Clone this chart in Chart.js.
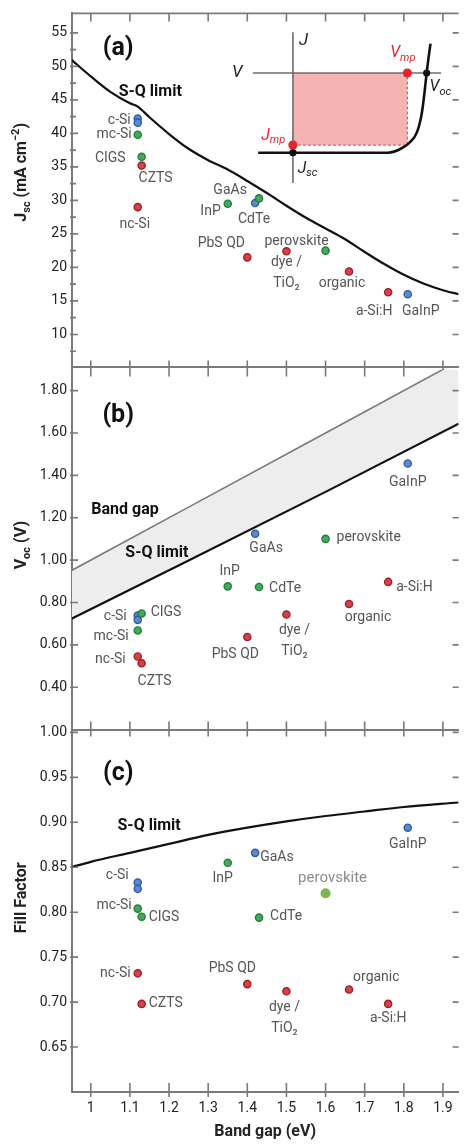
<!DOCTYPE html>
<html>
<head>
<meta charset="utf-8">
<script src="https://cdn.jsdelivr.net/npm/chart.js@4.4.1/dist/chart.umd.min.js"></script>
<style>
body { margin: 0; background: #fff; }
#wrap { position: relative; width: 464px; height: 1145px; overflow: hidden; }
canvas { position: absolute; left: 0; }
</style>
</head>
<body>
<div id="wrap">
<canvas id="panelA" width="464" height="380" style="top:0px"></canvas>
<canvas id="panelB" width="464" height="387" style="top:356px"></canvas>
<canvas id="panelC" width="464" height="426" style="top:719px"></canvas>
<canvas id="inset" width="244" height="180" style="top:20px;left:220px"></canvas>
</div>
<script>
// record cells
const materials = ['c-Si', 'c-Si', 'mc-Si', 'CIGS', 'CZTS', 'nc-Si', 'GaAs', 'InP', 'CdTe', 'PbS QD', 'dye /\nTiO₂', 'perovskite', 'organic', 'a-Si:H', 'GaInP'];
const bandGap = [1.12, 1.12, 1.12, 1.13, 1.13, 1.12, 1.42, 1.35, 1.43, 1.40, 1.50, 1.60, 1.66, 1.76, 1.81];
const group = ['high', 'high', 'mid', 'mid', 'low', 'low', 'high', 'mid', 'mid', 'low', 'low', 'mid', 'low', 'low', 'high'];
const jsc = [42.2, 41.6, 39.8, 36.5, 35.2, 29.0, 29.6, 29.5, 30.3, 21.5, 22.4, 22.5, 19.4, 16.3, 16.0];
const voc = [0.738, 0.718, 0.668, 0.748, 0.513, 0.545, 1.124, 0.876, 0.873, 0.637, 0.743, 1.100, 0.793, 0.897, 1.456];
const fillFactor = [0.833, 0.826, 0.804, 0.795, 0.698, 0.732, 0.866, 0.855, 0.794, 0.720, 0.712, 0.821, 0.714, 0.698, 0.894];

// Shockley-Queisser limits
const sqJscGap = [0.95, 1.0, 1.05, 1.1, 1.12, 1.15, 1.2, 1.25, 1.3, 1.35, 1.4, 1.45, 1.5, 1.55, 1.6, 1.65, 1.7, 1.75, 1.8, 1.85, 1.9, 1.94];
const sqJsc = [51.0, 48.5, 46.2, 44.5, 44.0, 42.4, 39.9, 37.7, 36.0, 34.6, 32.9, 31.1, 29.2, 27.4, 25.8, 24.2, 22.3, 20.5, 18.9, 17.6, 16.6, 16.0];
const sqVocGap = [0.95, 1.25, 1.6, 1.94];
const sqVoc = [0.723, 0.998, 1.322, 1.644];
const gapVoc = [0.95, 1.25, 1.6, 1.94];
const sqFFGap = [0.95, 1.0, 1.1, 1.2, 1.3, 1.4, 1.5, 1.6, 1.7, 1.8, 1.94];
const sqFF = [0.850, 0.856, 0.866, 0.876, 0.886, 0.894, 0.901, 0.907, 0.912, 0.917, 0.922];

// tick labels
const gapTicks = [1, 1.1, 1.2, 1.3, 1.4, 1.5, 1.6, 1.7, 1.8, 1.9];
const jscTicks = [10, 15, 20, 25, 30, 35, 40, 45, 50, 55];
const jscMinor = [7.5, 12.5, 17.5, 22.5, 27.5, 32.5, 37.5, 42.5, 47.5, 52.5];
const vocTicks = [0.4, 0.6, 0.8, 1.0, 1.2, 1.4, 1.6, 1.8];
const ffTicks = [0.65, 0.7, 0.75, 0.8, 0.85, 0.9, 0.95, 1.0];

// inset J-V sketch
const jvV = [-0.26, 0.5, 0.712, 0.796, 0.868, 0.928, 0.964, 0.988, 1.0, 1.019, 1.029];
const jvJ = [-1.0, -1.0, -1.0, -0.96, -0.88, -0.742, -0.504, -0.187, 0, 0.25, 0.369];
const vmp = 0.856, jmp = -0.905;

const FONT = 'Roboto, "DejaVu Sans", sans-serif';
const axisGray = '#7a7a7a';
const dotFill = { high: '#5a8bcb', mid: '#45a85c', low: '#d2434a' };
const dotEdge = { high: '#2d5f9f', mid: '#237f39', low: '#a61d26' };

Chart.defaults.font.family = FONT;
Chart.defaults.color = '#222';

const frameTicks = {
    id: 'frameTicks',
    afterDraw(chart, args, opts) {
        if (!opts.on) return;
        let ctx = chart.ctx, a = chart.chartArea, x = chart.scales.x, y = chart.scales.y;
        ctx.save();
        ctx.strokeStyle = axisGray;
        ctx.lineWidth = 1.6;
        ctx.beginPath();
        if (opts.topLine) { ctx.moveTo(a.left, a.top); ctx.lineTo(a.right, a.top); }
        x.ticks.forEach(t => {
            let px = x.getPixelForValue(t.value);
            if (opts.top) { ctx.moveTo(px, a.top - opts.top[0]); ctx.lineTo(px, a.top + opts.top[1]); }
            ctx.moveTo(px, a.bottom - opts.bottom[0]); ctx.lineTo(px, a.bottom + opts.bottom[1]);
        });
        y.ticks.forEach(t => {
            let py = y.getPixelForValue(t.value);
            let major = t.label !== '';
            ctx.moveTo(a.left - 2, py); ctx.lineTo(a.left + (major ? 6 : 4), py);
            if (major) { ctx.moveTo(a.right, py); ctx.lineTo(a.right - 6, py); }
        });
        ctx.stroke();
        ctx.restore();
    }
};

function drawParts(ctx, parts, x, y, align, size, style, color) {
    let big = style + ' ' + size + 'px ' + FONT;
    let small = style + ' ' + Math.round(size * 0.68) + 'px ' + FONT;
    let w = 0;
    parts.forEach(p => { ctx.font = p.s ? small : big; w += ctx.measureText(p.t).width; });
    let cx = align === 'center' ? x - w / 2 : align === 'right' ? x - w : x;
    ctx.fillStyle = color;
    ctx.textAlign = 'left';
    ctx.textBaseline = 'middle';
    parts.forEach(p => {
        ctx.font = p.s ? small : big;
        let dy = p.s === 'sub' ? size * 0.3 : p.s === 'sup' ? -size * 0.35 : 0;
        ctx.fillText(p.t, cx, y + dy);
        cx += ctx.measureText(p.t).width;
    });
}

const yTitle = {
    id: 'yTitle',
    afterDraw(chart, args, opts) {
        if (!opts.parts) return;
        let ctx = chart.ctx, a = chart.chartArea;
        ctx.save();
        ctx.translate(opts.x, a.top + opts.frac * (a.bottom - a.top));
        ctx.rotate(-Math.PI / 2);
        drawParts(ctx, opts.parts, 0, 0, 'center', 16, 'bold', '#222');
        ctx.restore();
    }
};

const notes = {
    id: 'notes',
    afterDraw(chart, args, opts) {
        if (!opts.items) return;
        let ctx = chart.ctx, x = chart.scales.x, y = chart.scales.y;
        ctx.save();
        opts.items.forEach(n => {
            drawParts(ctx, n.parts || [{ t: n.text }], x.getPixelForValue(n.x), y.getPixelForValue(n.y),
                n.align || 'center', n.size || 16, n.style || 'bold', n.color || '#111');
        });
        ctx.restore();
    }
};

const pointLabels = {
    id: 'pointLabels',
    afterDatasetsDraw(chart, args, opts) {
        if (!opts.pos) return;
        let ctx = chart.ctx;
        let pts = chart.getDatasetMeta(0).data;
        let done = {};
        ctx.save();
        materials.forEach((m, i) => {
            let p = opts.pos[m];
            if (!p || done[m]) return;
            done[m] = true;
            let big = p[3] === 'big';
            ctx.font = (big ? 15 : 14) + 'px ' + FONT;
            ctx.fillStyle = big ? '#8c8c8c' : '#555';
            ctx.textAlign = p[2];
            ctx.textBaseline = 'middle';
            m.split('\n').forEach((line, k) => {
                ctx.fillText(line, pts[i].x + p[0], pts[i].y + p[1] + k * 21);
            });
        });
        ctx.restore();
    }
};

Chart.register(frameTicks, yTitle, notes, pointLabels);

function tickList(major, minor) {
    return scale => {
        scale.ticks = major.concat(minor || []).sort((a, b) => a - b).map(v => ({ value: v }));
    };
}

function xy(xs, ys) {
    return xs.map((v, i) => ({ x: v, y: ys[i] }));
}

function dots(values, bigPerovskite) {
    return {
        data: xy(bandGap, values),
        pointRadius: c => bigPerovskite && materials[c.dataIndex] === 'perovskite' ? 5 : 3.6,
        pointBorderWidth: c => bigPerovskite && materials[c.dataIndex] === 'perovskite' ? 0 : 1.4,
        backgroundColor: c => bigPerovskite && materials[c.dataIndex] === 'perovskite' ? '#7cb84a' : dotFill[group[c.dataIndex]],
        borderColor: c => dotEdge[group[c.dataIndex]]
    };
}

function panelOptions(p) {
    return {
        responsive: false,
        animation: false,
        layout: { padding: { top: p.padTop } },
        plugins: {
            legend: { display: false },
            tooltip: { enabled: false },
            frameTicks: Object.assign({ on: true }, p.frame),
            yTitle: p.yTitle,
            notes: { items: p.notes },
            pointLabels: { pos: p.labels }
        },
        scales: {
            x: {
                type: 'linear', min: 0.952, max: 1.94,
                afterBuildTicks: tickList(gapTicks),
                afterFit: s => { s.height = p.xHeight; },
                grid: { drawOnChartArea: false, drawTicks: false },
                border: { color: axisGray, width: 2 },
                ticks: { display: !!p.xLabels, autoSkip: false, maxRotation: 0, padding: 8, color: '#222', font: { size: 14 }, callback: v => String(+v.toFixed(1)) },
                title: { display: !!p.xLabels, text: 'Band gap (eV)', color: '#222', font: { size: 16, weight: 'bold' }, padding: { top: 2, bottom: 3 } }
            },
            y: {
                type: 'linear', min: p.yMin, max: p.yMax,
                afterBuildTicks: tickList(p.yMajor, p.yMinor),
                afterFit: s => { s.width = 72; },
                grid: { drawOnChartArea: false, drawTicks: false },
                border: { color: axisGray, width: 2 },
                ticks: { autoSkip: false, padding: 5, color: '#222', font: { size: 14 }, callback: v => p.yMajor.includes(v) ? p.fmt(v) : '' }
            }
        }
    };
}

window.onload = function () {
    new Chart(document.getElementById('panelA'), {
        type: 'scatter',
        data: {
            datasets: [
                dots(jsc),
                { type: 'line', data: xy(sqJscGap, sqJsc), borderColor: '#111', borderWidth: 2.2, pointRadius: 0, cubicInterpolationMode: 'monotone' }
            ]
        },
        options: panelOptions({
            padTop: 7, xHeight: 12, yMin: 5.2, yMax: 57.9, yMajor: jscTicks, yMinor: jscMinor, fmt: v => String(v),
            frame: { topLine: true, top: [0, 8], bottom: [6, 10] },
            yTitle: { x: 22, frac: 0.45, parts: [{ t: 'J' }, { t: 'sc', s: 'sub' }, { t: ' (mA cm' }, { t: '−2', s: 'sup' }, { t: ')' }] },
            notes: [
                { text: '(a)', x: 1.07, y: 52.7, size: 25 },
                { text: 'S-Q limit', x: 1.152, y: 46.2 }
            ],
            labels: {
                'c-Si': [-7, 2, 'right'], 'mc-Si': [-6, 0, 'right'], 'CIGS': [-16, 2, 'right'], 'CZTS': [14, 13, 'center'],
                'nc-Si': [-3, 17, 'center'], 'GaAs': [-25, -13, 'center'], 'InP': [-7, 8, 'right'], 'CdTe': [-5, 21, 'center'],
                'PbS QD': [-26, -14, 'center'], 'dye /\nTiO₂': [0, 11, 'center'], 'perovskite': [-29, -9, 'center'],
                'organic': [-7, 12, 'center'], 'a-Si:H': [-14, 19, 'center'], 'GaInP': [13, 17, 'center']
            }
        })
    });

    new Chart(document.getElementById('panelB'), {
        type: 'scatter',
        data: {
            datasets: [
                dots(voc),
                { type: 'line', data: xy(sqVocGap, sqVoc), borderColor: '#111', borderWidth: 2.2, pointRadius: 0 },
                { type: 'line', data: xy(sqVocGap, gapVoc), borderColor: '#7a7a7a', borderWidth: 1.6, pointRadius: 0, fill: '-1', backgroundColor: '#ededed' }
            ]
        },
        options: panelOptions({
            padTop: 12, xHeight: 12, yMin: 0.2, yMax: 1.9, yMajor: vocTicks, fmt: v => v.toFixed(2),
            frame: { bottom: [8, 7] },
            yTitle: { x: 22, frac: 0.488, parts: [{ t: 'V' }, { t: 'oc', s: 'sub' }, { t: ' (V)' }] },
            notes: [
                { text: '(b)', x: 1.07, y: 1.683, size: 25 },
                { text: 'Band gap', x: 1.0875, y: 1.236 },
                { text: 'S-Q limit', x: 1.169, y: 1.034 }
            ],
            labels: {
                'c-Si': [-11, 1, 'right'], 'CIGS': [9, -1, 'left'], 'mc-Si': [-9, 6, 'right'], 'nc-Si': [-12, 3, 'right'],
                'CZTS': [13, 18, 'center'], 'InP': [2, -15, 'center'], 'GaAs': [11, 15, 'center'], 'perovskite': [11, -1, 'left'],
                'CdTe': [10, 1, 'left'], 'a-Si:H': [8, 6, 'left'], 'organic': [19, 14, 'center'], 'dye /\nTiO₂': [8, 16, 'center'],
                'PbS QD': [-12, 17, 'center'], 'GaInP': [0, 19, 'center']
            }
        })
    });

    new Chart(document.getElementById('panelC'), {
        type: 'scatter',
        data: {
            datasets: [
                dots(fillFactor, true),
                { type: 'line', data: xy(sqFFGap, sqFF), borderColor: '#111', borderWidth: 2.2, pointRadius: 0, cubicInterpolationMode: 'monotone' }
            ]
        },
        options: panelOptions({
            padTop: 12, xHeight: 53, xLabels: true, yMin: 0.6, yMax: 1.0, yMajor: ffTicks, fmt: v => v.toFixed(2),
            frame: { bottom: [9, 5] },
            yTitle: { x: 22, frac: 0.46, parts: [{ t: 'Fill Factor' }] },
            notes: [
                { text: '(c)', x: 1.07, y: 0.9535, size: 25 },
                { text: 'S-Q limit', x: 1.149, y: 0.896 }
            ],
            labels: {
                'c-Si': [-9, -7, 'right'], 'mc-Si': [-6, -3, 'right'], 'CIGS': [7, 1, 'left'], 'InP': [-5, 16, 'center'],
                'GaAs': [5, 5, 'left'], 'perovskite': [7, -15, 'center', 'big'], 'CdTe': [11, -1, 'left'], 'GaInP': [0, 17, 'center'],
                'nc-Si': [-7, 0, 'right'], 'CZTS': [7, 0, 'left'], 'PbS QD': [-15, -16, 'center'], 'dye /\nTiO₂': [-2, 16, 'center'],
                'organic': [4, -12, 'left'], 'a-Si:H': [0, 15, 'center']
            }
        })
    });

    // inset: J-V curve sketch with the maximum power rectangle
    new Chart(document.getElementById('inset'), {
        type: 'scatter',
        data: {
            datasets: [
                { data: [{ x: 0, y: jmp }, { x: vmp, y: 0 }], backgroundColor: '#e3262c', pointRadius: 4.6, pointBorderWidth: 0 },
                { data: [{ x: 0, y: -1 }, { x: 1, y: 0 }], backgroundColor: '#111', pointRadius: 3.6, pointBorderWidth: 0 },
                { type: 'line', data: xy(jvV, jvJ), borderColor: '#111', borderWidth: 2.6, pointRadius: 0, cubicInterpolationMode: 'monotone' },
                { type: 'line', data: [{ x: -0.30, y: 0 }, { x: 1.108, y: 0 }], borderColor: '#6d6d6d', borderWidth: 1.6, pointRadius: 0 },
                { type: 'line', data: [{ x: 0, y: 0.512 }, { x: 0, y: -1.38 }], borderColor: '#6d6d6d', borderWidth: 1.6, pointRadius: 0 },
                { type: 'line', data: [{ x: 0, y: jmp }, { x: vmp, y: jmp }, { x: vmp, y: 0 }], borderColor: '#e0605e', borderWidth: 1.2,
                  borderDash: [3, 2], pointRadius: 0, fill: { value: 0 }, backgroundColor: 'rgba(242,150,150,0.72)' }
            ]
        },
        options: {
            responsive: false,
            animation: false,
            plugins: {
                legend: { display: false },
                tooltip: { enabled: false },
                notes: {
                    items: [
                        { parts: [{ t: 'J' }], x: 0.079, y: 0.405, style: 'italic', color: '#222', size: 17 },
                        { parts: [{ t: 'V' }], x: -0.417, y: 0, style: 'italic', color: '#222', size: 17 },
                        { parts: [{ t: 'V' }, { t: 'mp', s: 'sub' }], x: 0.727, y: 0.25, align: 'left', style: 'italic', color: '#e3262c', size: 16 },
                        { parts: [{ t: 'V' }, { t: 'oc', s: 'sub' }], x: 1.022, y: -0.179, align: 'left', style: 'italic', color: '#222', size: 16 },
                        { parts: [{ t: 'J' }, { t: 'mp', s: 'sub' }], x: -0.237, y: -0.786, align: 'left', style: 'italic', color: '#e3262c', size: 16 },
                        { parts: [{ t: 'J' }, { t: 'sc', s: 'sub' }], x: 0.036, y: -1.202, align: 'left', style: 'italic', color: '#222', size: 16 }
                    ]
                }
            },
            scales: {
                x: { type: 'linear', display: false, min: -0.511, max: 1.245 },
                y: { type: 'linear', display: false, min: -1.536, max: 0.607 }
            }
        }
    });
};
</script>
</body>
</html>
